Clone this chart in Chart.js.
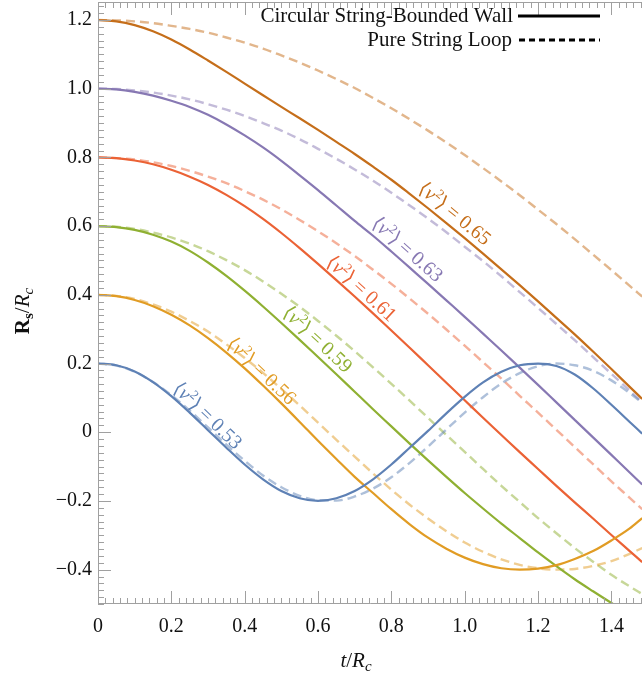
<!DOCTYPE html>
<html><head><meta charset="utf-8">
<script src="https://cdn.jsdelivr.net/npm/chart.js@4.4.0/dist/chart.umd.min.js"></script>
<style>html,body{margin:0;padding:0;background:#fff}canvas{display:block}</style>
</head><body>
<canvas id="c" width="642" height="681"></canvas>
<script>
// ---- data ----
const tValues = [0,0.05,0.1,0.15,0.2,0.25,0.3,0.35,0.4,0.45,0.5,0.55,0.6,0.65,0.7,0.75,0.8,0.85,0.9,0.95,1.0,1.05,1.1,1.15,1.2,1.25,1.3,1.35,1.4,1.45,1.484];

const wall053 = [0.200,0.195,0.177,0.146,0.105,0.057,0.006,-0.045,-0.094,-0.137,-0.171,-0.192,-0.200,-0.192,-0.171,-0.137,-0.094,-0.045,0.004,0.055,0.103,0.145,0.176,0.195,0.200,0.193,0.168,0.128,0.080,0.030,-0.004];
const loop053 = [0.200,0.194,0.176,0.146,0.108,0.063,0.014,-0.036,-0.083,-0.126,-0.160,-0.185,-0.198,-0.199,-0.187,-0.164,-0.131,-0.089,-0.042,0.008,0.057,0.102,0.142,0.172,0.192,0.200,0.195,0.179,0.151,0.114,0.086];
const wall056 = [0.400,0.396,0.385,0.367,0.342,0.311,0.274,0.232,0.186,0.136,0.084,0.030,-0.025,-0.078,-0.130,-0.177,-0.224,-0.268,-0.307,-0.339,-0.365,-0.384,-0.396,-0.400,-0.397,-0.387,-0.369,-0.346,-0.315,-0.280,-0.250];
const loop056 = [0.400,0.397,0.388,0.372,0.351,0.324,0.293,0.256,0.216,0.173,0.126,0.078,0.028,-0.022,-0.071,-0.120,-0.167,-0.211,-0.251,-0.288,-0.321,-0.348,-0.370,-0.386,-0.396,-0.400,-0.398,-0.389,-0.375,-0.354,-0.337];
const wall059 = [0.600,0.597,0.589,0.575,0.555,0.528,0.494,0.455,0.412,0.366,0.318,0.269,0.219,0.169,0.118,0.067,0.017,-0.033,-0.082,-0.130,-0.177,-0.222,-0.266,-0.308,-0.350,-0.390,-0.428,-0.463,-0.497,-0.529,-0.550];
const loop059 = [0.600,0.598,0.592,0.581,0.567,0.549,0.527,0.501,0.472,0.439,0.403,0.365,0.324,0.281,0.236,0.189,0.141,0.092,0.042,-0.008,-0.057,-0.107,-0.156,-0.203,-0.250,-0.294,-0.337,-0.377,-0.415,-0.449,-0.471];
const wall061 = [0.800,0.798,0.791,0.780,0.764,0.744,0.720,0.691,0.658,0.621,0.580,0.536,0.490,0.443,0.395,0.346,0.296,0.246,0.195,0.144,0.093,0.042,-0.008,-0.058,-0.107,-0.156,-0.204,-0.251,-0.299,-0.346,-0.378];
const loop061 = [0.800,0.798,0.794,0.786,0.775,0.761,0.744,0.725,0.702,0.677,0.649,0.618,0.585,0.550,0.513,0.473,0.432,0.389,0.345,0.299,0.252,0.204,0.156,0.106,0.057,0.007,-0.043,-0.093,-0.143,-0.191,-0.224];
const wall063 = [1.000,0.998,0.991,0.980,0.965,0.947,0.924,0.896,0.864,0.829,0.790,0.748,0.705,0.660,0.615,0.572,0.526,0.479,0.432,0.384,0.336,0.287,0.238,0.188,0.138,0.087,0.036,-0.015,-0.066,-0.117,-0.152];
const loop063 = [1.000,0.999,0.995,0.989,0.980,0.969,0.955,0.939,0.921,0.900,0.878,0.853,0.825,0.796,0.765,0.732,0.697,0.660,0.622,0.582,0.540,0.498,0.454,0.408,0.362,0.315,0.268,0.219,0.170,0.121,0.087];
const wall065 = [1.200,1.196,1.185,1.167,1.143,1.114,1.082,1.049,1.015,0.981,0.947,0.914,0.880,0.845,0.810,0.773,0.735,0.694,0.652,0.609,0.565,0.520,0.474,0.428,0.381,0.333,0.285,0.235,0.184,0.132,0.097];
const loop065 = [1.200,1.199,1.196,1.191,1.183,1.174,1.163,1.149,1.134,1.117,1.097,1.076,1.053,1.028,1.002,0.973,0.943,0.911,0.878,0.843,0.807,0.769,0.730,0.690,0.648,0.606,0.562,0.517,0.472,0.426,0.395];

const velocityValues = ['0.53','0.56','0.59','0.61','0.63','0.65'];
const legendLabels = ['Circular String-Bounded Wall','Pure String Loop'];
const xTickStep = 0.2, yTickStep = 0.2, minorStep = 0.02;

// ---- styling / layout (not data) ----
const COLORS = ['#5E81B5','#E19C24','#8FB032','#EB6235','#8778B3','#C56E1A'];
const LIGHT  = ['rgba(94,129,181,0.5)','rgba(225,156,36,0.5)','rgba(143,176,50,0.5)','rgba(235,98,53,0.5)','rgba(135,120,179,0.5)','rgba(197,110,26,0.5)'];
const labelAnchors = [[0.300,0.050],[0.447,0.180],[0.600,0.272],[0.720,0.420],[0.845,0.534],[0.974,0.638]];
const SERIF = "'Liberation Serif','DejaVu Serif',serif";
const X_MIN = 0, X_MAX = 1.4835, Y_MIN = -0.5, Y_MAX = 1.2524;

const walls = [wall053, wall056, wall059, wall061, wall063, wall065];
const loops = [loop053, loop056, loop059, loop061, loop063, loop065];
const pts = arr => tValues.map((t,i) => ({x:t, y:arr[i]}));

const datasets = [];
walls.forEach((w,i) => datasets.push({label:'wall '+velocityValues[i], data:pts(w), borderColor:COLORS[i], borderWidth:2.2, pointRadius:0, fill:false, cubicInterpolationMode:'monotone'}));
loops.forEach((l,i) => datasets.push({label:'loop '+velocityValues[i], data:pts(l), borderColor:LIGHT[i], borderWidth:2.4, borderDash:[9,5], pointRadius:0, fill:false, cubicInterpolationMode:'monotone'}));

function interp(arr, t){
  for (let i=0;i<tValues.length-1;i++){
    if (t>=tValues[i] && t<=tValues[i+1]){
      const f=(t-tValues[i])/(tValues[i+1]-tValues[i]);
      return arr[i]+(arr[i+1]-arr[i])*f;
    }
  }
  return arr[arr.length-1];
}
function fmt(v){ if (Math.abs(v)<1e-9) return '0'; return v.toFixed(1).replace('-','\u2212'); }

function drawParts(ctx, parts, cx, cy, angle){
  ctx.save();
  ctx.translate(cx, cy);
  ctx.rotate(angle||0);
  let w=0;
  parts.forEach(p=>{ctx.font=p.font; p.w=ctx.measureText(p.text).width; w+=p.w;});
  let x=-w/2;
  ctx.textBaseline='alphabetic';
  ctx.textAlign='left';
  parts.forEach(p=>{ctx.font=p.font; ctx.fillStyle=p.color||ctx.fillStyle; ctx.fillText(p.text, x, 7+(p.dy||0)); x+=p.w;});
  ctx.restore();
}

const decor = {
  id:'decor',
  afterDraw(chart){
    const ctx=chart.ctx, a=chart.chartArea, xs=chart.scales.x, ys=chart.scales.y;
    ctx.save();
    // frame
    ctx.strokeStyle='#a0a0a0'; ctx.lineWidth=1;
    ctx.beginPath();
    ctx.moveTo(a.left+0.5, a.top+0.5); ctx.lineTo(a.left+0.5, a.bottom-0.5); ctx.lineTo(a.right, a.bottom-0.5);
    ctx.moveTo(a.left, a.top+0.5); ctx.lineTo(a.right, a.top+0.5);
    ctx.stroke();
    // ticks
    ctx.beginPath();
    for (let k=Math.ceil(Y_MIN/minorStep); k*minorStep<=Y_MAX+1e-9; k++){
      const v=k*minorStep, py=Math.round(ys.getPixelForValue(v))+0.5;
      const len = (k%10===0)?13:6;
      ctx.moveTo(a.left, py); ctx.lineTo(a.left+len, py);
    }
    for (let k=0; k*minorStep<=X_MAX+1e-9; k++){
      const v=k*minorStep, px=Math.round(xs.getPixelForValue(v))+0.5;
      const len = (k%10===0)?13:6;
      ctx.moveTo(px, a.bottom); ctx.lineTo(px, a.bottom-len);
      ctx.moveTo(px, a.top); ctx.lineTo(px, a.top+len);
    }
    ctx.stroke();
    // legend
    ctx.fillStyle='#111'; ctx.font='21px '+SERIF; ctx.textAlign='right'; ctx.textBaseline='middle';
    ctx.fillText(legendLabels[0], 513, 16);
    ctx.fillText(legendLabels[1], 512, 40);
    ctx.strokeStyle='#000'; ctx.lineWidth=3;
    ctx.beginPath(); ctx.moveTo(518,16); ctx.lineTo(600,16); ctx.stroke();
    ctx.setLineDash([6,4]);
    ctx.beginPath(); ctx.moveTo(519,40); ctx.lineTo(600,40); ctx.stroke();
    ctx.setLineDash([]);
    // axis titles
    ctx.fillStyle='#111';
    drawParts(ctx,[
      {text:'R',font:'bold 21px '+SERIF},
      {text:'s',font:'bold 15px '+SERIF,dy:4},
      {text:'/',font:'21px '+SERIF},
      {text:'R',font:'italic 21px '+SERIF},
      {text:'c',font:'italic 15px '+SERIF,dy:4}
    ], 22, 311, -Math.PI/2);
    drawParts(ctx,[
      {text:'t',font:'italic 21px '+SERIF},
      {text:'/',font:'21px '+SERIF},
      {text:'R',font:'italic 21px '+SERIF},
      {text:'c',font:'italic 15px '+SERIF,dy:4}
    ], 356, 660, 0);
    // curve labels
    labelAnchors.forEach((p,i)=>{
      const arr=walls[i], t=p[0];
      const x1=xs.getPixelForValue(t-0.03), y1=ys.getPixelForValue(interp(arr,t-0.03));
      const x2=xs.getPixelForValue(t+0.03), y2=ys.getPixelForValue(interp(arr,t+0.03));
      const ang=Math.atan2(y2-y1,x2-x1);
      const c=COLORS[i];
      drawParts(ctx,[
        {text:'\u27E8',font:'20px '+SERIF,color:c},
        {text:'v',font:'italic 20px '+SERIF,color:c},
        {text:'2',font:'13px '+SERIF,dy:-8,color:c},
        {text:'\u27E9 = '+velocityValues[i],font:'20px '+SERIF,color:c}
      ], xs.getPixelForValue(p[0]), ys.getPixelForValue(p[1]), ang);
    });
    ctx.restore();
  }
};

function noPad(s){ s.paddingTop=0; s.paddingBottom=0; s.paddingLeft=0; s.paddingRight=0; }

new Chart(document.getElementById('c'), {
  type:'line',
  data:{datasets},
  options:{
    responsive:false, animation:false, events:[],
    layout:{padding:{top:2,right:0,left:0,bottom:0}},
    plugins:{legend:{display:false}, tooltip:{enabled:false}},
    scales:{
      x:{type:'linear', min:X_MIN, max:X_MAX, border:{display:false},
         grid:{display:false, drawTicks:false},
         ticks:{stepSize:xTickStep, includeBounds:false, padding:11, color:'#111', font:{family:SERIF,size:20}, callback:v=>fmt(v), maxRotation:0, autoSkip:false},
         afterFit(s){ s.height=77; noPad(s); }},
      y:{type:'linear', min:Y_MIN, max:Y_MAX, border:{display:false},
         grid:{display:false, drawTicks:false},
         ticks:{stepSize:yTickStep, includeBounds:false, padding:6, color:'#111', font:{family:SERIF,size:20}, callback:v=>fmt(v), autoSkip:false},
         afterFit(s){ s.width=98; noPad(s); }}
    }
  },
  plugins:[decor]
});
</script>
</body></html>
